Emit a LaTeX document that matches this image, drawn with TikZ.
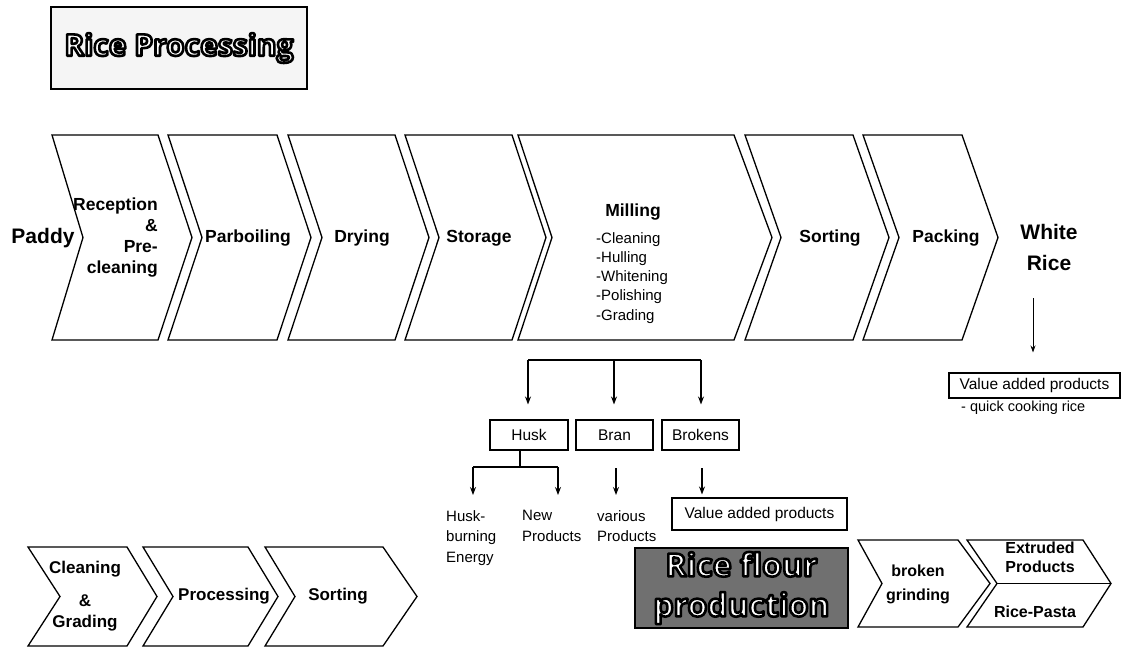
\documentclass[tikz,border=0pt]{standalone}
\usepackage{fontspec}
\setmainfont{Liberation Sans}
\newfontfamily\titlefont{Open Sans}
\usetikzlibrary{arrows.meta}
% white text with a black outline (text render mode 2: fill and stroke)
\newcommand{\outl}[1]{{\color{white}\special{pdf:literal direct 0 G 2.6 w 1 j 2 Tr}#1\special{pdf:literal direct 0 Tr}}}
% xl, xr, top, bottom, left depth, right depth
\newcommand{\chevron}[6]{\draw[chev] (#1,#3) -- (#2,#3) -- ({#2+#6},{(#3+#4)/2}) -- (#2,#4) -- (#1,#4) -- ({#1+#5},{(#3+#4)/2}) -- cycle;}
\definecolor{flourgray}{RGB}{112,112,112}
\tikzset{
  chev/.style={draw=black, line width=1.3pt, line join=miter},
  lab/.style={font=\fontsize{17.5}{21}\selectfont\bfseries, inner sep=0pt, align=center},
  big/.style={font=\fontsize{21}{31}\selectfont\bfseries, inner sep=0pt, align=center},
  reg/.style={font=\fontsize{15}{20.5}\selectfont, inner sep=0pt},
  box/.style={draw=black, line width=1.1pt, inner sep=0pt, minimum height=30pt, font=\fontsize{15.5}{18}\selectfont},
  arr/.style={line width=1.1pt, -{Stealth[length=8pt,width=6pt]}},
  link/.style={line width=1.1pt},
  titlebox/.style={draw=black, line width=1.3pt, inner sep=0pt, align=center, font=\titlefont\fontsize{30}{40}\selectfont\bfseries}
}
\begin{document}
\begin{tikzpicture}[x=1pt,y=-1pt]
\useasboundingbox (0,0) rectangle (1122,649);
% title
\node[titlebox, fill=gray!8, minimum width=256pt, minimum height=82pt] (title) at (179,48) {\outl{Rice Processing}};
% top chevrons
\chevron{52}{158}{135}{340}{31}{34}
\chevron{168}{277}{135}{340}{34}{34}
\chevron{288}{395}{135}{340}{34}{34}
\chevron{405}{512}{135}{340}{34}{34}
\chevron{518}{734}{135}{340}{34}{38}
\chevron{745}{853}{135}{340}{36}{36}
\chevron{863}{962}{135}{340}{36}{36}
\node[big] (paddy) at (43,238) {Paddy};
\node[lab, align=right, anchor=east] (reception) at (158,238) {Reception\\\&\hspace*{9pt}\\Pre-\\cleaning};
\node[lab] (parboil) at (248,238) {Parboiling};
\node[lab] (drying) at (362,238) {Drying};
\node[lab] (storage) at (479,238) {Storage};
\node[lab] (milling) at (633,212) {Milling};
\node[inner sep=0pt, anchor=north west, align=left, font=\fontsize{15}{19.3}\selectfont] (millsteps) at (596,232) {-Cleaning\\-Hulling\\-Whitening\\-Polishing\\-Grading};
\node[lab] (sorting) at (830,238) {Sorting};
\node[lab] (packing) at (946,238) {Packing};
\node[big] (white) at (1049,247) {White\\Rice};
% white rice value added
\node[box, minimum width=171pt, minimum height=25pt] (val1) at (1034.5,385.5) {Value added products};
\node[reg, anchor=north west, font=\fontsize{14.5}{18}\selectfont] (quick) at (961,401) {- quick cooking rice};
\coordinate (wr) at (1033,298);
\draw[line width=0.9pt, -{Stealth[length=7pt,width=5pt]}, shorten >=20pt] (wr) -- (wr |- val1.north);
% by-products
\node[box, minimum width=78pt] (husk) at (529,435) {Husk};
\node[box, minimum width=77pt] (bran) at (614.5,435) {Bran};
\node[box, minimum width=77pt] (brokens) at (700.5,435) {Brokens};
\coordinate (bL) at (528,360);
\coordinate (bM) at (614,360);
\coordinate (bR) at (701,360);
\draw[link] (bL) -- (bR);
\draw[arr, shorten >=15pt] (bL) -- (bL |- husk.north);
\draw[arr, shorten >=15pt] (bM) -- (bM |- bran.north);
\draw[arr, shorten >=15pt] (bR) -- (bR |- brokens.north);
% husk split
\node[reg, anchor=north west, align=left] (husktxt) at (446,510) {Husk-\\burning\\Energy};
\node[reg, anchor=north west, align=left] (newprod) at (522,510) {New\\Products};
\node[reg, anchor=north west, align=left] (various) at (597,510) {various\\Products};
\node[box, minimum width=175pt, minimum height=32pt] (val2) at (759.5,514) {Value added products};
\coordinate (hs) at (520,467);
\coordinate (hl) at (473,467);
\coordinate (hr) at (558,467);
\draw[link] (husk.south -| hs) -- (hs);
\draw[link] (hl) -- (hr);
\draw[arr, shorten >=15pt] (hl) -- (hl |- husktxt.north);
\draw[arr, shorten >=15pt] (hr) -- (hr |- newprod.north);
\coordinate (bs) at (616,468);
\draw[arr, shorten >=15pt] (bs) -- (bs |- various.north);
\coordinate (ks) at (702,468);
\draw[arr, shorten >=3pt] (ks) -- (ks |- val2.north);
% rice flour production
\node[titlebox, fill=flourgray, line width=1.6pt, minimum width=213pt, minimum height=80pt, font=\titlefont\fontsize{32}{40}\selectfont\bfseries] (flour) at (741.5,588) {\outl{Rice flour}\\\outl{production}};
\chevron{858}{958}{540}{627}{24}{32}
\chevron{967}{1083}{540}{627}{30}{28}
\coordinate (exl) at (997,583.5);
\coordinate (exr) at (1111,583.5);
\draw[link] (exl) -- (exr);
\node[lab, font=\fontsize{16}{24}\selectfont\bfseries] (grind) at (918,584) {broken\\grinding};
\node[lab, font=\fontsize{16}{19}\selectfont\bfseries] (extr) at (1040,557) {Extruded\\Products};
\node[lab, font=\fontsize{16}{19}\selectfont\bfseries] (pasta) at (1035,612) {Rice-Pasta};
% bottom-left chain
\chevron{28}{127}{547}{646}{32}{30}
\chevron{143}{248}{547}{646}{30}{30}
\chevron{265}{383}{547}{646}{30}{34}
\node[lab, font=\fontsize{17}{21}\selectfont\bfseries] (clean) at (85,596) {Cleaning\\[12pt]\&\\Grading};
\node[lab, font=\fontsize{17}{21}\selectfont\bfseries] (process) at (224,596) {Processing};
\node[lab, font=\fontsize{17}{21}\selectfont\bfseries] (sort2) at (338,596) {Sorting};
\end{tikzpicture}
\end{document}
